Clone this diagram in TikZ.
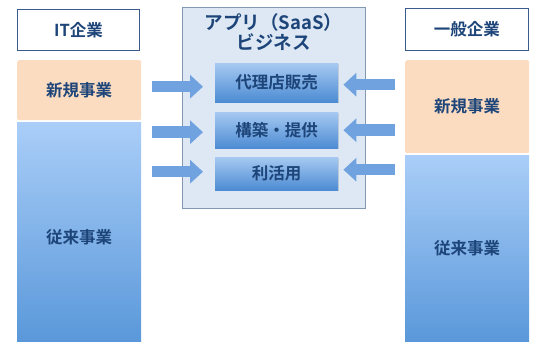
\documentclass[tikz,border=0pt]{standalone}
\usepackage{fontspec}
\setmainfont{Noto Sans CJK JP}[BoldFont={Noto Sans CJK JP Bold}]
\usepackage{tikz}
\usetikzlibrary{positioning,arrows.meta,shadows}

\definecolor{navy}{HTML}{1D4579}
\definecolor{framec}{HTML}{3B5B8C}
\definecolor{peach}{HTML}{FCDCC0}
\definecolor{coltop}{HTML}{AACEF8}
\definecolor{colbot}{HTML}{5A98DA}
\definecolor{boxtop}{HTML}{A6C9F1}
\definecolor{boxbot}{HTML}{4C8BD3}
\definecolor{appfill}{HTML}{DDE8F4}
\definecolor{appline}{HTML}{8398B2}
\definecolor{arrowc}{HTML}{6FA2DF}

\begin{document}
\begin{tikzpicture}[x=1pt,y=-1pt,font=\fontsize{16.5}{19}\selectfont\bfseries,text=navy,
  every node/.style={anchor=north west,inner sep=0pt},
  head/.style={draw=framec,line width=.9pt,fill=white},
  newbiz/.style={fill=peach,rounded corners=2pt},
  oldbiz/.style={top color=coltop,bottom color=colbot},
  service/.style={top color=boxtop,bottom color=boxbot,drop shadow={shadow xshift=.8pt,shadow yshift=-1.2pt,opacity=.25},
                  minimum width=123pt},
  fatarrow/.style={draw=arrowc,line width=11.5pt,-{Triangle[length=13pt,width=23pt,fill=arrowc]}}]
  \useasboundingbox (0,0) rectangle (534,341);

  % left column
  \node[head,minimum width=122pt,minimum height=41pt]   (ithead)  at (17,9)   {IT企業};
  \node[newbiz,minimum width=124pt,minimum height=60pt] (itnew)   at (17,60)  {新規事業};
  \node[oldbiz,minimum width=124pt,minimum height=219pt,text height=26pt](itold) at (17,122) {従来事業};

  % right column
  \node[head,minimum width=123pt,minimum height=42pt]   (genhead) at (405,8)   {一般企業};
  \node[newbiz,minimum width=124pt,minimum height=93pt] (gennew)  at (405,60)  {新規事業};
  \node[oldbiz,minimum width=124pt,minimum height=186pt](genold)  at (405,155) {従来事業};

  % center
  \node[draw=appline,fill=appfill,line width=.9pt,minimum width=183pt,minimum height=201pt] (app) at (182,7) {};
  \node[anchor=north,align=center,font=\fontsize{18.5}{20}\selectfont\bfseries] (apptitle) at (273.5,13) {アプリ（SaaS）\\ビジネス};
  \node[service,minimum height=39pt] (shop)  at (215,63)  {代理店販売};
  \node[service,minimum height=36pt] (build) at (215,112) {構築・提供};
  \node[service,minimum height=33pt] (use)   at (215,157) {利活用};

  \foreach \svc/\dy in {shop/4,build/2,use/-2}{
    \draw[fatarrow,shorten <=11pt,shorten >=12pt] ([yshift=-\dy pt]itnew.east |- \svc) -- ([yshift=-\dy pt]\svc.west);
    \draw[fatarrow,shorten <=10pt,shorten >=5pt]  ([yshift=-\dy pt+2pt]gennew.west |- \svc) -- ([yshift=-\dy pt+2pt]\svc.east);
  }
\end{tikzpicture}
\end{document}
